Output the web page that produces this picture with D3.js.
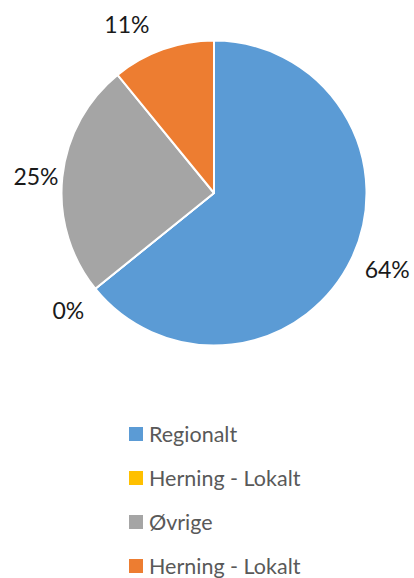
<!DOCTYPE html>
<html>
<head>
<meta charset="utf-8">
<script src="https://cdn.jsdelivr.net/npm/d3@7"></script>
<style>
  html, body { margin: 0; padding: 0; background: #fff; }
  svg { display: block; }
</style>
</head>
<body>
<svg id="chart" width="414" height="578"></svg>
<script>
const categories = ["Regionalt", "Herning - Lokalt", "Øvrige", "Herning - Lokalt"];
const values = [64.2, 0.0, 24.9, 10.9];
const labels = ["64%", "0%", "25%", "11%"];
const colors = ["#5B9BD5", "#FFC000", "#A5A5A5", "#ED7D31"];

const svg = d3.select("#chart");
const cx = 214, cy = 193, r = 152.5;
const font = "Lato, 'Open Sans', sans-serif";

const pie = d3.pie().sort(null).value(d => d)(values);
const arc = d3.arc().innerRadius(0).outerRadius(r);

const g = svg.append("g").attr("transform", `translate(${cx},${cy})`);
g.selectAll("path.slice")
  .data(pie)
  .join("path")
  .attr("class", "slice")
  .attr("d", arc)
  .attr("fill", (d, i) => colors[i])
  .attr("stroke", "#fff")
  .attr("stroke-width", 2)
  .attr("stroke-linejoin", "round");

// outside-end labels
const R = 182;
const nudge = [[9, -3], [-4, 3], [3, 2], [-26, 2]];
const mid = d => d.startAngle === d.endAngle ? d.startAngle : (d.startAngle + d.endAngle) / 2;
g.selectAll("text.lbl")
  .data(pie)
  .join("text")
  .attr("class", "lbl")
  .attr("x", (d, i) => Math.sin(mid(d)) * R + nudge[i][0])
  .attr("y", (d, i) => -Math.cos(mid(d)) * R + nudge[i][1])
  .attr("text-anchor", "middle")
  .attr("dominant-baseline", "central")
  .attr("font-family", font)
  .attr("font-size", 23)
  .attr("fill", "#1a1a1a")
  .text((d, i) => labels[i]);

// legend
const legend = svg.append("g").attr("transform", "translate(129,434)");
const rowY = d3.scalePoint().domain(d3.range(categories.length)).range([0, 132]);
const rows = legend.selectAll("g.row")
  .data(categories)
  .join("g")
  .attr("class", "row")
  .attr("transform", (d, i) => `translate(0,${rowY(i)})`);
rows.append("rect")
  .attr("x", 0).attr("y", -7)
  .attr("width", 14).attr("height", 14)
  .attr("fill", (d, i) => colors[i]);
rows.append("text")
  .attr("x", 20).attr("y", 0)
  .attr("dominant-baseline", "central")
  .attr("font-family", font)
  .attr("font-size", 21.5)
  .attr("fill", "#595959")
  .text(d => d);
</script>
</body>
</html>
